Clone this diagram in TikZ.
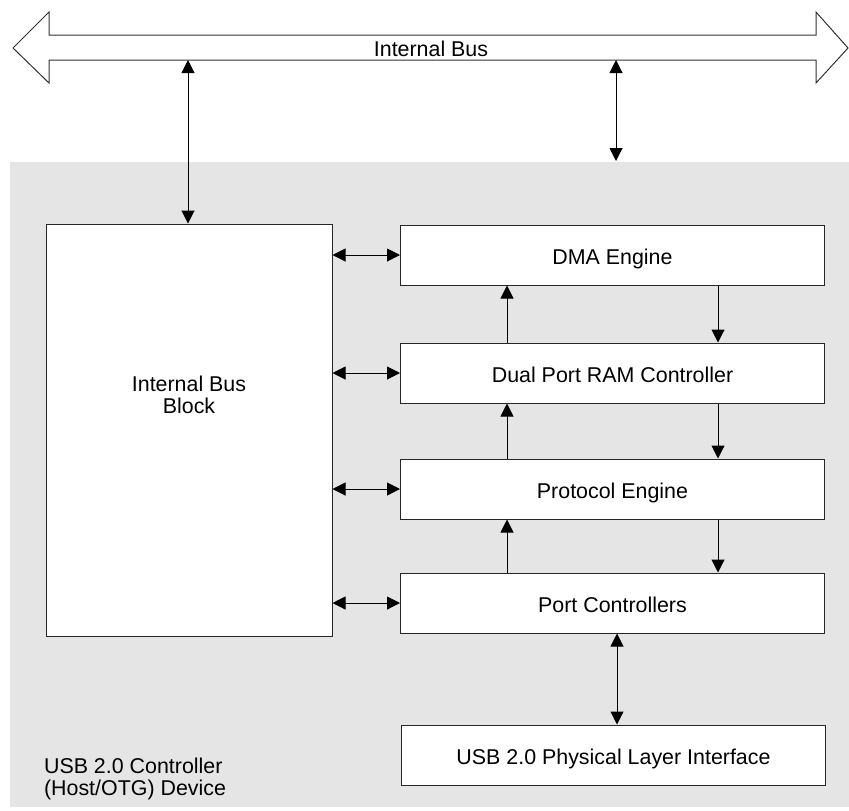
\documentclass[tikz,border=0pt]{standalone}
\usepackage{fontspec}
\setmainfont{Liberation Sans}
\usetikzlibrary{arrows.meta}
\begin{document}
\begin{tikzpicture}[x = 0.5pt, y = -0.5pt,
  font = \fontsize{10.7}{11}\selectfont,
  block/.style = {draw = black!85, fill = white, line width = 0.5pt,
    minimum width = 212pt, minimum height = 30pt, inner sep = 0pt,
    text height = 9.7pt, text depth = 0pt},
  tip/.style = {-{Triangle[length = 6.5pt, width = 6.5pt]}, line width = 0.5pt},
  dbl/.style = {{Triangle[length = 6.5pt, width = 6.5pt]}-{Triangle[length = 6.5pt, width = 6.5pt]}, line width = 0.5pt}]
\useasboundingbox (0,0) rectangle (849,810);
% device area
\fill[black!10] (10,162) rectangle (849,807);
% internal bus
\draw[black!80, fill = white, line width = 0.5pt] (13,48) -- (49,12) -- (49,35) -- (816,35) -- (816,12) -- (848,48)
  -- (816,83) -- (816,60) -- (49,60) -- (49,83) -- cycle;
\node (bus) at (431,49) {Internal Bus};
\coordinate (busL) at (188,60);
\coordinate (busR) at (616,60);
\coordinate (devtop) at (616,161);
% blocks
\node[block, minimum width = 143pt, minimum height = 206pt] (ibb) at (189,430) {};
\node[align = center] (ibbtext) at (189,395) {Internal Bus\\Block};
\node[block] (dma) at (612.5,255) {DMA Engine};
\node[block] (dpram) at (612.5,373) {Dual Port RAM Controller};
\node[block] (proto) at (612.5,489) {Protocol Engine};
\node[block] (port) at (612.5,603) {Port Controllers};
\node[block] (phy) at (613.5,755) {USB 2.0 Physical Layer Interface};
\node[align = left, anchor = west] (caption) at (37,779) {USB 2.0 Controller\\(Host/OTG) Device};
\coordinate (upx) at (507,0);
\coordinate (downx) at (718,0);
\coordinate (phyx) at (617,0);
% connectors
\draw[dbl] (busL) -- (ibb.north -| busL);
\draw[dbl] (busR) -- (devtop);
\foreach \b in {dma, dpram, proto, port}
{
  \draw[dbl] (\b.west -| ibb.east) -- (\b.west);
}
\foreach \lo / \hi in {dpram/dma, proto/dpram, port/proto}
{
  \draw[tip] (\lo.north -| upx) -- (\hi.south -| upx);
  \draw[tip] (\hi.south -| downx) -- (\lo.north -| downx);
}
\draw[dbl] (port.south -| phyx) -- (phy.north -| phyx);
\end{tikzpicture}
\end{document}
